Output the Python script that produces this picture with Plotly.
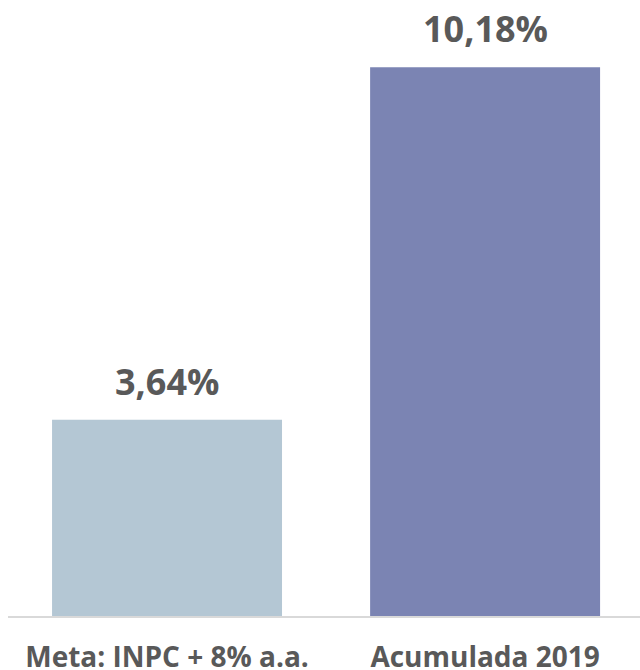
import plotly.graph_objects as go

categories = ["Meta: INPC + 8% a.a.", "Acumulada 2019"]
values = [3.64, 10.18]
value_labels = ["3,64%", "10,18%"]
bar_colors = ["#B4C7D4", "#7B84B3"]

FONT = "Open Sans"
TEXT_COLOR = "#595959"

fig = go.Figure()
fig.add_trace(go.Bar(
    x=categories,
    y=values,
    marker=dict(color=bar_colors, line=dict(width=0)),
    width=0.723,
    hoverinfo="skip",
))

for cat, val, lab in zip(categories, values, value_labels):
    fig.add_annotation(
        x=cat, y=val, text=f"<b>{lab}</b>",
        showarrow=False, yanchor="bottom", yshift=12,
        font=dict(family=FONT, size=36, color=TEXT_COLOR),
    )

fig.update_layout(
    width=640, height=670,
    margin=dict(l=8, r=0, t=10, b=54, autoexpand=False),
    paper_bgcolor="white", plot_bgcolor="white",
    showlegend=False,
    bargap=0.277,
    xaxis=dict(
        range=[-0.5, 1.487],
        automargin=False,
        showline=True, linecolor="#D9D9D9", linewidth=2,
        showgrid=False, zeroline=False,
        ticks="", ticklabelstandoff=15,
        tickfont=dict(family=FONT, size=28, color=TEXT_COLOR, weight="bold"),
    ),
    yaxis=dict(
        range=[0, 11.24], visible=False, showgrid=False, zeroline=False,
    ),
)

fig.write_html(
    "out.html",
    config={"displayModeBar": False, "staticPlot": True},
    post_script="document.body.style.margin='0';document.body.style.overflow='hidden';",
)
